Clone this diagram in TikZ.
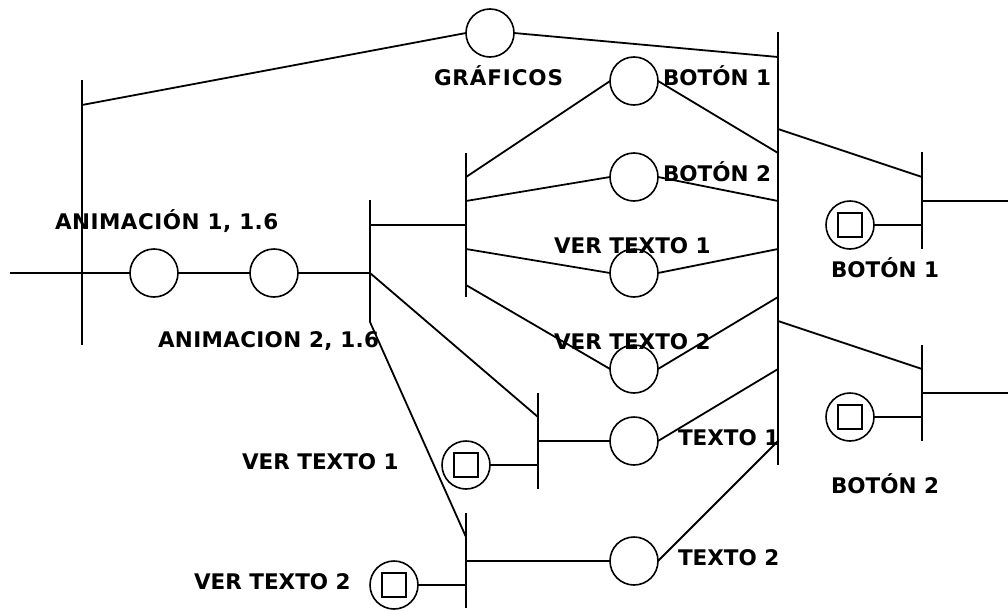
\documentclass[tikz,border=0pt]{standalone}
\usepackage{fontspec}
\setmainfont{DejaVu Sans}
\tikzset{
 x=1pt,y=-1pt,
 every path/.style={black},
 straight/.style={line width=2.1pt},
 slant/.style={line width=1.8pt},
 place/.style={circle,draw,line width=1.6pt,minimum size=48pt,inner sep=0pt,outer sep=0pt},
 sq/.style={rectangle,draw,line width=1.8pt,minimum size=24pt,inner sep=0pt,outer sep=0pt},
 lab/.style={anchor=base west,inner sep=0pt,outer sep=0pt,font=\bfseries\fontsize{21.5}{22}\selectfont},
}
\begin{document}
\begin{tikzpicture}
\useasboundingbox (0,0) rectangle (1008,610);
% places
\node[place] (g) at (490,33) {};
\node[place] (a1) at (154,273) {};
\node[place] (a2) at (274,273) {};
\node[place] (b1) at (634,81) {};
\node[place] (b2) at (634,177) {};
\node[place] (v1) at (634,273) {};
\node[place] (v2) at (634,369) {};
\node[place] (t1) at (634,441) {};
\node[place] (t2) at (634,561) {};
\node[place] (m1) at (850,225) {}; \node[sq] at (m1) {};
\node[place] (m2) at (850,417) {}; \node[sq] at (m2) {};
\node[place] (m3) at (466,465) {}; \node[sq] at (m3) {};
\node[place] (m4) at (394,585) {}; \node[sq] at (m4) {};
% bars
\coordinate (A1) at (82,80); \coordinate (A2) at (82,345); \draw[straight] (A1)--(A2);
\coordinate (B1) at (370,200); \coordinate (B2) at (370,322); \draw[straight] (B1)--(B2);
\coordinate (C1) at (466,153); \coordinate (C2) at (466,297); \draw[straight] (C1)--(C2);
\coordinate (D1) at (778,32); \coordinate (D2) at (778,465); \draw[straight] (D1)--(D2);
\coordinate (E1) at (922,152); \coordinate (E2) at (922,249); \draw[straight] (E1)--(E2);
\coordinate (F1) at (922,345); \coordinate (F2) at (922,441); \draw[straight] (F1)--(F2);
\coordinate (H1) at (538,393); \coordinate (H2) at (538,489); \draw[straight] (H1)--(H2);
\coordinate (I1) at (466,513); \coordinate (I2) at (466,608); \draw[straight] (I1)--(I2);
% free ends and bar points
\coordinate (in) at (10,273);
\coordinate (o1) at (1008,201);
\coordinate (o2) at (1008,393);
\coordinate (a0) at (82,105);
\coordinate (b5) at (370,273);
\coordinate (b7) at (370,225);
\coordinate (c7) at (466,225);
\coordinate (c3) at (466,177);
\coordinate (c4) at (466,201);
\coordinate (c5) at (466,249);
\coordinate (c6) at (466,285);
\coordinate (d0) at (778,57);
\coordinate (d1) at (778,153);
\coordinate (d2) at (778,201);
\coordinate (d3) at (778,249);
\coordinate (d4) at (778,297);
\coordinate (d5) at (778,369);
\coordinate (d6) at (778,441);
\coordinate (d7) at (778,129);
\coordinate (d8) at (778,321);
\coordinate (e1) at (922,177);
\coordinate (e2) at (922,201);
\coordinate (e3) at (922,225);
\coordinate (f1) at (922,369);
\coordinate (f2) at (922,393);
\coordinate (f3) at (922,417);
\coordinate (h1) at (538,417);
\coordinate (h2) at (538,441);
\coordinate (h3) at (538,465);
\coordinate (i1) at (466,537);
\coordinate (i2) at (466,561);
\coordinate (i3) at (466,585);
% connectors
\draw[straight] (in)--(a1.west) (a1.east)--(a2.west) (a2.east)--(b5);
\draw[slant] (a0)--(g.west) (g.east)--(d0);
\draw[straight] (b7)--(c7);
\draw[slant] (b5)--(h1);
\draw[slant] (B2)--(i1);
\draw[slant] (c3)--(b1.west) (c4)--(b2.west) (c5)--(v1.west) (c6)--(v2.west);
\draw[slant] (b1.east)--(d1) (b2.east)--(d2) (v1.east)--(d3) (v2.east)--(d4);
\draw[straight] (h2)--(t1.west);
\draw[slant] (t1.east)--(d5);
\draw[straight] (i2)--(t2.west);
\draw[slant] (t2.east)--(d6);
\draw[slant] (d7)--(e1) (d8)--(f1);
\draw[straight] (e2)--(o1) (f2)--(o2);
\draw[straight] (m1.east)--(e3) (m2.east)--(f3) (m3.east)--(h3) (m4.east)--(i3);
% labels
\node[lab] (l1) at (434,85) {\addfontfeature{LetterSpace=4}GRÁFICOS};
\node[lab] (l2) at (663,85) {BOTÓN 1};
\node[lab] (l3) at (663,181) {BOTÓN 2};
\node[lab] (l4) at (554,253) {VER TEXTO 1};
\node[lab] (l5) at (554,349) {VER TEXTO 2};
\node[lab] (l6) at (55,229) {\addfontfeature{LetterSpace=2.3}ANIMACIÓN 1, 1.6};
\node[lab] (l7) at (158,347) {\addfontfeature{LetterSpace=1.5}ANIMACION 2, 1.6};
\node[lab] (l8) at (242,469) {VER TEXTO 1};
\node[lab] (l9) at (194,589) {VER TEXTO 2};
\node[lab] (l10) at (678,445) {TEXTO 1};
\node[lab] (l11) at (678,565) {TEXTO 2};
\node[lab] (l12) at (831,277) {BOTÓN 1};
\node[lab] (l13) at (831,493) {BOTÓN 2};
\end{tikzpicture}
\end{document}
